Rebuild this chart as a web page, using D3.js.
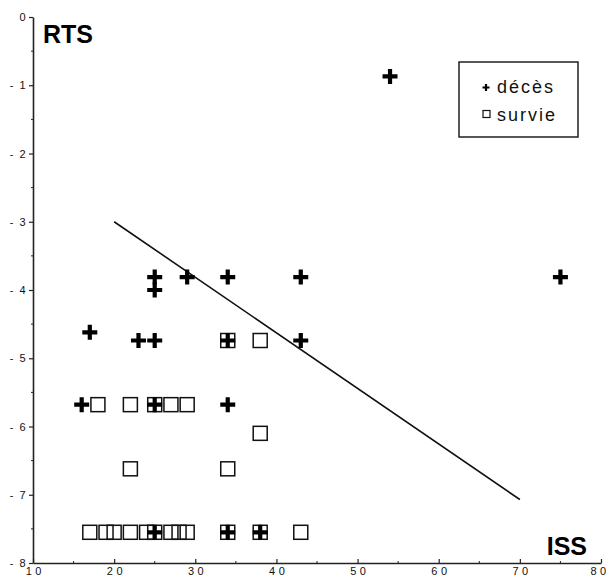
<!DOCTYPE html>
<html>
<head>
<meta charset="utf-8">
<script src="https://cdn.jsdelivr.net/npm/d3@7"></script>
<style>
  body { margin: 0; background: #fff; }
  svg { display: block; }
  .tick text { font-family: "Liberation Sans", Arial, sans-serif; font-size: 11px; fill: #111; }
  .x-axis .tick text { letter-spacing: 3.5px; }
  .y-axis .tick text { letter-spacing: 1.5px; }
</style>
</head>
<body>
<svg id="chart" width="610" height="584"></svg>
<script>
// ISS / RTS values
const decesISS = [54, 75, 25, 25, 29, 34, 43, 17, 23, 25, 34, 43, 16, 25, 34, 25, 34, 38];
const decesRTS = [-0.87, -3.81, -3.81, -4.0, -3.81, -3.81, -3.81, -4.62, -4.74, -4.74, -4.74, -4.74, -5.68, -5.68, -5.68, -7.55, -7.55, -7.55];

const survieISS = [34, 38, 18, 22, 25, 27, 29, 38, 22, 34, 17, 19, 20, 22, 24, 25, 27, 28, 29, 34, 38, 43];
const survieRTS = [-4.74, -4.74, -5.68, -5.68, -5.68, -5.68, -5.68, -6.1, -6.62, -6.62, -7.55, -7.55, -7.55, -7.55, -7.55, -7.55, -7.55, -7.55, -7.55, -7.55, -7.55, -7.55];

const fitLine = [[20, -3.0], [70, -7.07]];

const xTicks = [10, 20, 30, 40, 50, 60, 70, 80];
const yTicks = [0, -1, -2, -3, -4, -5, -6, -7, -8];
const legendLabels = ["décès", "survie"];

const svg = d3.select("#chart");

const x = d3.scaleLinear().domain([10, 80]).range([33, 601]);
const y = d3.scaleLinear().domain([-8, 0]).range([563, 17]);

const deces = decesISS.map((d, i) => ({ iss: d, rts: decesRTS[i] }));
const survie = survieISS.map((d, i) => ({ iss: d, rts: survieRTS[i] }));

// minor ticks
let minor = svg.append("g").attr("stroke", "#222").attr("stroke-width", 1);
minor.selectAll("line.mx")
  .data(d3.range(15, 80, 10))
  .enter().append("line")
  .attr("x1", d => x(d)).attr("x2", d => x(d))
  .attr("y1", y(-8)).attr("y2", y(-8) - 2);
minor.selectAll("line.my")
  .data(d3.range(-7.5, 0, 1))
  .enter().append("line")
  .attr("x1", x(10) - 2).attr("x2", x(10))
  .attr("y1", d => y(d)).attr("y2", d => y(d));

let xAxis = svg.append("g")
  .classed("x-axis", true)
  .attr("transform", `translate(0,${y(-8)})`)
  .call(d3.axisBottom(x).tickValues(xTicks).tickSize(-4).tickSizeOuter(0).tickPadding(4));
xAxis.selectAll(".tick text").attr("dx", d => d === 80 ? -1.5 : 1.75);

let yAxis = svg.append("g")
  .classed("y-axis", true)
  .attr("transform", `translate(${x(10)},0)`)
  .call(d3.axisLeft(y).tickValues(yTicks).tickSize(4).tickSizeOuter(0).tickPadding(2)
    .tickFormat(d => d === 0 ? "0" : "- " + Math.abs(d)));

[xAxis, yAxis].forEach(a => {
  a.select(".domain").attr("stroke", "#222").attr("stroke-width", 1.6);
  a.selectAll(".tick line").attr("stroke", "#222").attr("stroke-width", 1.2);
});

// regression line
svg.append("line")
  .attr("x1", x(fitLine[0][0])).attr("y1", y(fitLine[0][1]))
  .attr("x2", x(fitLine[1][0])).attr("y2", y(fitLine[1][1]))
  .attr("stroke", "#111").attr("stroke-width", 1.6);

// survie: open squares
const sq = 14;
svg.append("g").selectAll("rect")
  .data(survie)
  .enter().append("rect")
  .attr("x", d => x(d.iss) - sq / 2)
  .attr("y", d => y(d.rts) - sq / 2)
  .attr("width", sq).attr("height", sq)
  .attr("fill", "none")
  .attr("stroke", "#111")
  .attr("stroke-width", 1.5);

// décès: bold plus signs
const arm = 7.5;
const plusPath = (cx, cy, a) => `M${cx - a},${cy}H${cx + a}M${cx},${cy - a}V${cy + a}`;
svg.append("g").selectAll("path")
  .data(deces)
  .enter().append("path")
  .attr("d", d => plusPath(x(d.iss), y(d.rts), arm))
  .attr("stroke", "#000")
  .attr("stroke-width", 4.2)
  .attr("fill", "none");

// axis titles
svg.append("text")
  .attr("x", 43).attr("y", 43)
  .attr("font-family", "Liberation Sans, Arial, sans-serif")
  .attr("font-weight", "bold").attr("font-size", 25)
  .text("RTS");

svg.append("text")
  .attr("x", 587).attr("y", 555)
  .attr("text-anchor", "end")
  .attr("font-family", "Liberation Sans, Arial, sans-serif")
  .attr("font-weight", "bold").attr("font-size", 25)
  .text("ISS");

// legend
let legend = svg.append("g");
legend.append("rect")
  .attr("x", 459).attr("y", 62).attr("width", 119).attr("height", 75)
  .attr("fill", "#fff").attr("stroke", "#111").attr("stroke-width", 1.4);

legend.append("path")
  .attr("d", plusPath(486, 87.5, 3.5))
  .attr("stroke", "#000").attr("stroke-width", 2.2);
legend.append("rect")
  .attr("x", 483).attr("y", 110.5).attr("width", 7).attr("height", 7)
  .attr("fill", "none").attr("stroke", "#111").attr("stroke-width", 1.2);

legend.selectAll("text")
  .data(legendLabels)
  .enter().append("text")
  .attr("x", 497)
  .attr("y", (d, i) => 93 + i * 28)
  .attr("font-family", "Liberation Sans, Arial, sans-serif")
  .attr("font-size", 18)
  .attr("letter-spacing", 2)
  .attr("fill", "#111")
  .text(d => d);
</script>
</body>
</html>
